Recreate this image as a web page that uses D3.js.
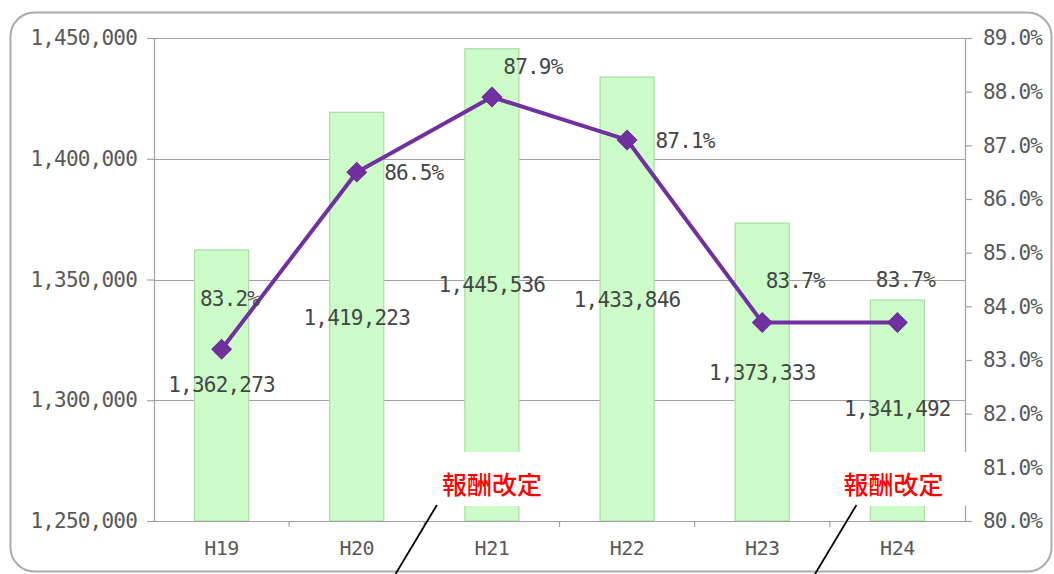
<!DOCTYPE html>
<html lang="ja">
<head>
<meta charset="utf-8">
<script src="https://cdn.jsdelivr.net/npm/d3@7"></script>
<style>
  html, body { margin: 0; padding: 0; background: #fff; }
  svg { display: block; }
  .num { font-family: "DejaVu Sans Mono", "Liberation Mono", monospace; }
</style>
</head>
<body>
<svg id="chart" width="1054" height="574"></svg>
<script>
// 年度別の件数（棒）と割合（折れ線）
const categories = ["H19", "H20", "H21", "H22", "H23", "H24"];
const counts = [1362273, 1419223, 1445536, 1433846, 1373333, 1341492];
const rates = [83.2, 86.5, 87.9, 87.1, 83.7, 83.7];
const leftTicks = [1250000, 1300000, 1350000, 1400000, 1450000];
const rightTicks = [80, 81, 82, 83, 84, 85, 86, 87, 88, 89];
const notes = [
  { category: "H21", text: "報酬改定" },
  { category: "H24", text: "報酬改定" }
];

// ラベルの配置（ピクセル単位のずらし量）
const rateLabelOffset = [[8, -50], [57, 1], [41, -30], [58, 1], [33, -41], [8, -42]];
const countLabelOffset = [135, 206, 236, 223, 150, 109];
const noteTextShift = [0, -4];
const noteLeaderShift = [-55, -41];

const svg = d3.select("#chart");
const plot = { left: 154, right: 965, top: 38, bottom: 521 };

// 外枠
svg.append("rect")
  .attr("x", 10.5).attr("y", 12.5)
  .attr("width", 1041).attr("height", 559)
  .attr("rx", 24).attr("ry", 24)
  .attr("fill", "#fff")
  .attr("stroke", "#ababab").attr("stroke-width", 2);

const x = d3.scaleBand()
  .domain(categories)
  .range([plot.left, plot.right])
  .paddingInner(0.6)
  .paddingOuter(0.3);

const yL = d3.scaleLinear().domain([1250000, 1450000]).range([plot.bottom, plot.top]);
const yR = d3.scaleLinear().domain([80, 89]).range([plot.bottom, plot.top]);

const fmtCount = d3.format(",");
const fmtRate = d => d.toFixed(1) + "%";

// 目盛線
svg.append("g")
  .selectAll("line")
  .data(leftTicks.slice(1))
  .join("line")
  .attr("x1", plot.left).attr("x2", plot.right)
  .attr("y1", d => Math.round(yL(d)) + 0.5)
  .attr("y2", d => Math.round(yL(d)) + 0.5)
  .attr("stroke", "#a0a0a0").attr("stroke-width", 1.2);

// 棒
svg.append("g")
  .selectAll("rect")
  .data(counts)
  .join("rect")
  .attr("x", (d, i) => x(categories[i]))
  .attr("width", x.bandwidth())
  .attr("y", d => yL(d))
  .attr("height", d => yL.range()[0] - yL(d))
  .attr("fill", "#ccfdc9")
  .attr("stroke", "#a9dca3").attr("stroke-width", 1.2);

// 左軸
const axisL = svg.append("g")
  .attr("transform", `translate(${plot.left},0)`)
  .call(d3.axisLeft(yL).tickValues(leftTicks).tickFormat(fmtCount).tickSize(7).tickPadding(10));

// 右軸
const axisR = svg.append("g")
  .attr("transform", `translate(${plot.right},0)`)
  .call(d3.axisRight(yR).tickValues(rightTicks).tickFormat(fmtRate).tickSize(7).tickPadding(11));

// 下軸（区切り目盛は区間の境界）
const axisB = svg.append("g")
  .attr("transform", `translate(0,${plot.bottom})`)
  .call(d3.axisBottom(x).tickSize(0).tickPadding(20));

const bounds = d3.range(categories.length + 1).map(i => plot.left + i * x.step());
svg.append("g")
  .selectAll("line")
  .data(bounds.slice(1, -1))
  .join("line")
  .attr("x1", d => d).attr("x2", d => d)
  .attr("y1", plot.bottom).attr("y2", plot.bottom + 6)
  .attr("stroke", "#a0a0a0").attr("stroke-width", 1.2);

[axisL, axisR, axisB].forEach(g => {
  g.select(".domain").attr("stroke", "#a0a0a0").attr("stroke-width", 1.2);
  g.selectAll(".tick line").attr("stroke", "#a0a0a0").attr("stroke-width", 1.2);
  g.selectAll(".tick text")
    .attr("class", "num")
    .attr("fill", "#595959")
    .style("font-size", "21px")
    .style("letter-spacing", "-0.8px");
});
axisB.selectAll(".tick text").style("font-size", "20px").style("letter-spacing", "-0.5px");

// 折れ線
const pts = rates.map((r, i) => [x(categories[i]) + x.bandwidth() / 2, yR(r)]);
svg.append("path")
  .datum(pts)
  .attr("d", d3.line())
  .attr("fill", "none")
  .attr("stroke", "#7030a0").attr("stroke-width", 4)
  .attr("stroke-linejoin", "round");

svg.append("g")
  .selectAll("path")
  .data(pts)
  .join("path")
  .attr("transform", d => `translate(${d[0]},${d[1]}) rotate(45)`)
  .attr("d", d3.symbol().type(d3.symbolSquare).size(190))
  .attr("fill", "#7030a0")
  .attr("stroke", "#6a2a98").attr("stroke-width", 1);

// 割合ラベル
svg.append("g")
  .selectAll("text")
  .data(rates)
  .join("text")
  .attr("class", "num")
  .attr("x", (d, i) => pts[i][0] + rateLabelOffset[i][0])
  .attr("y", (d, i) => pts[i][1] + rateLabelOffset[i][1])
  .attr("text-anchor", "middle")
  .attr("dominant-baseline", "central")
  .attr("fill", "#454545")
  .style("font-size", "21px")
  .style("letter-spacing", "-0.8px")
  .text(fmtRate);

// 件数ラベル
svg.append("g")
  .selectAll("text")
  .data(counts)
  .join("text")
  .attr("class", "num")
  .attr("x", (d, i) => x(categories[i]) + x.bandwidth() / 2)
  .attr("y", (d, i) => yL(d) + countLabelOffset[i])
  .attr("text-anchor", "middle")
  .attr("dominant-baseline", "central")
  .attr("fill", "#454545")
  .style("font-size", "21px")
  .style("letter-spacing", "-0.8px")
  .text(fmtCount);

// 注記（報酬改定）
const noteG = svg.append("g")
  .selectAll("g")
  .data(notes)
  .join("g")
  .attr("transform", d => `translate(${x(d.category) + x.bandwidth() / 2},0)`);

noteG.append("rect")
  .attr("x", -77).attr("width", 154)
  .attr("y", 452).attr("height", 54)
  .attr("fill", "#fff");

noteG.append("text")
  .attr("x", (d, i) => noteTextShift[i]).attr("y", 483)
  .attr("text-anchor", "middle")
  .attr("dominant-baseline", "central")
  .attr("fill", "#ff0000")
  .style("font-family", "'Noto Sans CJK JP', sans-serif")
  .style("font-size", "25px")
  .style("font-weight", 500)
  .text(d => d.text);

noteG.append("line")
  .attr("x1", (d, i) => noteLeaderShift[i]).attr("y1", 505)
  .attr("x2", (d, i) => noteLeaderShift[i] - 45).attr("y2", 580)
  .attr("stroke", "#000").attr("stroke-width", 1.8);
</script>
</body>
</html>
